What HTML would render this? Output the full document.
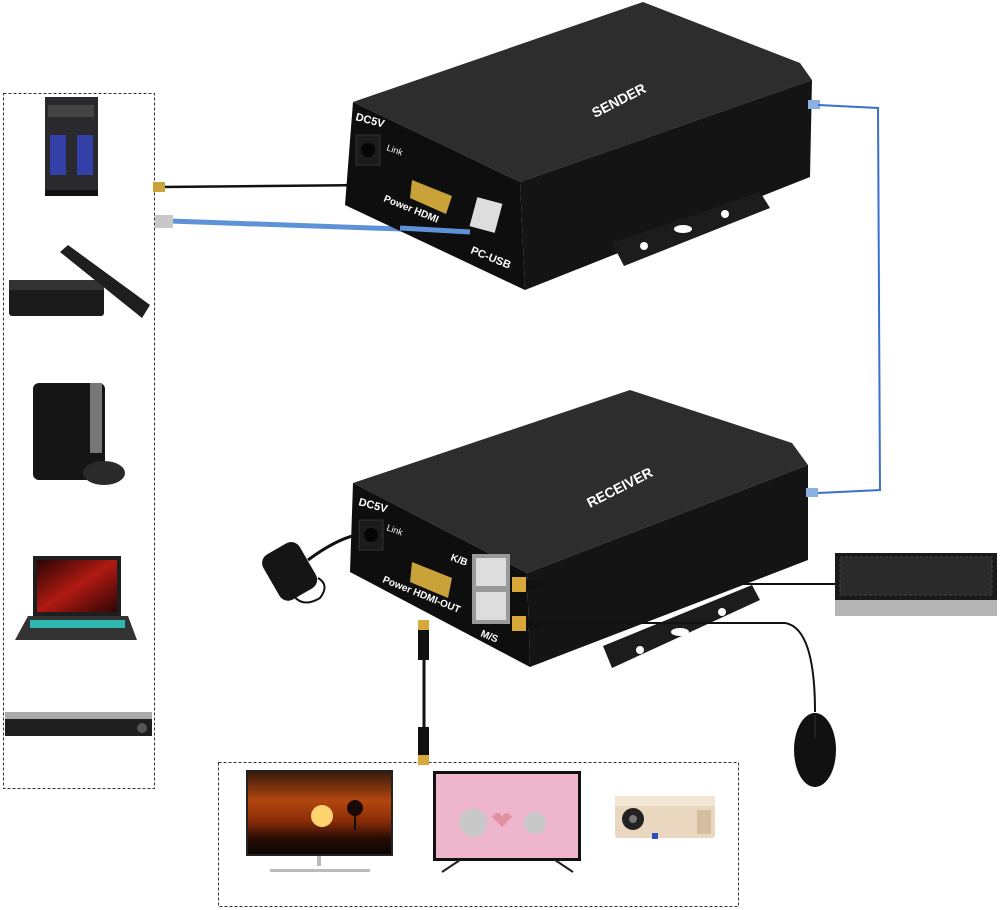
<!DOCTYPE html>
<html><head><meta charset="utf-8"><style>
html,body{margin:0;padding:0;background:#fff;}
svg{display:block;font-family:"Liberation Sans",sans-serif;}
</style></head><body>
<svg width="1000" height="910" viewBox="0 0 1000 910" xmlns="http://www.w3.org/2000/svg">
<defs>
<linearGradient id="sun" x1="0" y1="0" x2="0" y2="1">
<stop offset="0" stop-color="#3a1a0c"/><stop offset="0.35" stop-color="#b2470f"/><stop offset="0.6" stop-color="#8a2c08"/><stop offset="0.8" stop-color="#2a0d04"/><stop offset="1" stop-color="#0a0504"/>
</linearGradient>
<linearGradient id="lap" x1="0" y1="0" x2="1" y2="1">
<stop offset="0" stop-color="#2a0505"/><stop offset="0.5" stop-color="#b01a12"/><stop offset="1" stop-color="#300505"/>
</linearGradient>
</defs>
<rect width="1000" height="910" fill="#fff"/>
<rect x="3.5" y="93.5" width="151" height="695" fill="none" stroke="#333" stroke-dasharray="3,2"/>
<rect x="218.5" y="762.5" width="520" height="144" fill="none" stroke="#333" stroke-dasharray="3,2"/>

<!-- PC tower -->
<rect x="45" y="97" width="53" height="99" fill="#2a2a2e"/>
<rect x="48" y="105" width="46" height="12" fill="#444"/>
<rect x="50" y="135" width="16" height="40" fill="#3340a8"/>
<rect x="77" y="135" width="16" height="40" fill="#3340a8"/>
<rect x="45" y="190" width="53" height="6" fill="#111"/>
<!-- set-top + remote -->
<rect x="9" y="280" width="95" height="36" rx="3" fill="#1b1b1b"/>
<rect x="9" y="280" width="95" height="10" fill="#333"/>
<polygon points="60,252 68,245 150,305 142,318" fill="#1e1e1e"/>
<!-- PS3 -->
<rect x="33" y="383" width="72" height="97" rx="6" fill="#151515"/>
<rect x="90" y="383" width="12" height="70" fill="#777"/>
<ellipse cx="104" cy="473" rx="21" ry="12" fill="#2a2a2a"/>
<!-- laptop -->
<rect x="33" y="556" width="88" height="60" fill="#1e1e1e"/>
<rect x="37" y="560" width="80" height="52" fill="url(#lap)"/>
<polygon points="28,616 128,616 137,640 15,640" fill="#333"/>
<rect x="30" y="620" width="95" height="8" fill="#2fb8b0"/>
<!-- DVD -->
<rect x="5" y="712" width="147" height="24" fill="#1e1e1e"/>
<rect x="5" y="712" width="147" height="7" fill="#aaa"/>
<circle cx="142" cy="728" r="5" fill="#555"/>

<!-- cables to sender -->
<line x1="162" y1="187" x2="372" y2="185" stroke="#111" stroke-width="2.5"/>
<rect x="153" y="182" width="12" height="10" fill="#c9a23a"/>
<rect x="368" y="180" width="30" height="12" fill="#111"/>
<rect x="396" y="181" width="10" height="12" fill="#d8a93a"/>
<line x1="170" y1="221" x2="430" y2="230" stroke="#5d92d8" stroke-width="5"/>
<rect x="155" y="215" width="18" height="13" fill="#c8c8c8"/>

<!-- SENDER -->
<polygon points="353,102 643,2 800,63 812,80 520,182" fill="#2d2d2d"/>
<polygon points="520,182 812,80 810,177 525,290" fill="#141414"/>
<polygon points="353,102 520,182 525,290 345,205" fill="#0e0e0e"/>
<polygon points="612,243 624,266 770,208 760,192" fill="#1c1c1c"/>
<circle cx="644" cy="246" r="4" fill="#fff"/><circle cx="725" cy="214" r="4" fill="#fff"/>
<ellipse cx="683" cy="229" rx="9" ry="4" fill="#fff"/>
<text x="595" y="118" fill="#fff" font-size="14" font-weight="bold" transform="rotate(-27 595 118)">SENDER</text>
<text x="355" y="120" fill="#fff" font-size="11" font-weight="bold" transform="rotate(15 355 120)">DC5V</text>
<rect x="356" y="135" width="24" height="30" fill="#1b1b1b" stroke="#333"/>
<circle cx="368" cy="150" r="7" fill="#050505"/>
<text x="386" y="150" fill="#fff" font-size="9" transform="rotate(20 386 150)">Link</text>
<text x="383" y="201" fill="#fff" font-size="10" font-weight="bold" transform="rotate(22 383 201)">Power HDMI</text>
<polygon points="412,180 452,196 446,214 410,198" fill="#c9a23a"/>
<text x="470" y="253" fill="#fff" font-size="11" font-weight="bold" transform="rotate(22 470 253)">PC-USB</text>
<rect x="473" y="200" width="26" height="30" fill="#ddd" transform="rotate(15 486 215)"/>
<line x1="400" y1="228" x2="470" y2="232" stroke="#5d92d8" stroke-width="5"/>
<rect x="808" y="100" width="12" height="9" fill="#8cb0e0"/>

<!-- blue network cable -->
<polyline points="818,105 878,108 880,490 818,493" fill="none" stroke="#3b6fd0" stroke-width="2"/>

<!-- RECEIVER -->
<polygon points="353,483 630,390 792,443 808,465 527,573" fill="#2d2d2d"/>
<polygon points="527,573 808,465 808,560 530,667" fill="#141414"/>
<polygon points="353,483 527,573 530,667 350,572" fill="#0e0e0e"/>
<polygon points="603,646 612,668 760,600 752,585" fill="#1c1c1c"/>
<circle cx="640" cy="650" r="4" fill="#fff"/><circle cx="722" cy="612" r="4" fill="#fff"/>
<ellipse cx="680" cy="632" rx="9" ry="4" fill="#fff"/>
<text x="590" y="508" fill="#fff" font-size="14" font-weight="bold" transform="rotate(-27 590 508)">RECEIVER</text>
<text x="358" y="505" fill="#fff" font-size="11" font-weight="bold" transform="rotate(15 358 505)">DC5V</text>
<rect x="359" y="520" width="24" height="30" fill="#1b1b1b" stroke="#333"/>
<circle cx="371" cy="535" r="7" fill="#050505"/>
<text x="386" y="530" fill="#fff" font-size="9" transform="rotate(20 386 530)">Link</text>
<text x="382" y="582" fill="#fff" font-size="10" font-weight="bold" transform="rotate(22 382 582)">Power HDMI-OUT</text>
<polygon points="412,562 452,578 448,598 410,582" fill="#c9a23a"/>
<text x="450" y="560" fill="#fff" font-size="10" font-weight="bold" transform="rotate(20 450 560)">K/B</text>
<text x="480" y="636" fill="#fff" font-size="10" font-weight="bold" transform="rotate(22 480 636)">M/S</text>
<rect x="472" y="554" width="38" height="70" fill="#999"/>
<rect x="476" y="558" width="30" height="28" fill="#ddd"/>
<rect x="476" y="592" width="30" height="28" fill="#ddd"/>
<rect x="806" y="488" width="12" height="9" fill="#8cb0e0"/>

<!-- power adapter -->
<rect x="268" y="545" width="42" height="52" rx="10" fill="#151515" transform="rotate(-30 290 570)"/>
<path d="M308,560 Q335,540 356,535" stroke="#111" stroke-width="3" fill="none"/>
<path d="M290,590 Q300,610 320,598 Q330,585 318,578" stroke="#111" stroke-width="2" fill="none"/>

<!-- receiver cables -->
<line x1="528" y1="584" x2="835" y2="584" stroke="#111" stroke-width="2"/>
<rect x="512" y="577" width="14" height="15" fill="#d8a93a"/>
<rect x="526" y="580" width="16" height="9" fill="#111"/>
<path d="M528,623 L785,623 Q815,628 815,712" stroke="#111" stroke-width="2" fill="none"/>
<rect x="512" y="616" width="14" height="15" fill="#d8a93a"/>
<rect x="526" y="619" width="16" height="9" fill="#111"/>
<line x1="424" y1="625" x2="424" y2="760" stroke="#111" stroke-width="3"/>
<rect x="418" y="620" width="11" height="10" fill="#d8a93a"/>
<rect x="418" y="630" width="11" height="30" fill="#111"/>
<rect x="418" y="727" width="11" height="28" fill="#111"/>
<rect x="418" y="755" width="11" height="10" fill="#d8a93a"/>

<!-- keyboard -->
<rect x="835" y="553" width="162" height="47" fill="#1a1a1a"/>
<rect x="840" y="557" width="152" height="38" fill="#2a2a2a" stroke="#444" stroke-dasharray="3,2"/>
<rect x="835" y="600" width="162" height="16" fill="#b5b5b5"/>
<!-- mouse -->
<ellipse cx="815" cy="750" rx="21" ry="37" fill="#111"/>
<line x1="815" y1="715" x2="815" y2="738" stroke="#333"/>

<!-- monitor -->
<rect x="246" y="770" width="147" height="86" fill="#222"/>
<rect x="248" y="772" width="143" height="82" fill="url(#sun)"/>
<circle cx="322" cy="816" r="11" fill="#ffd470"/>
<line x1="355" y1="830" x2="355" y2="810" stroke="#111" stroke-width="2"/>
<circle cx="355" cy="808" r="8" fill="#1a0a05"/>
<rect x="317" y="856" width="4" height="10" fill="#bbb"/>
<polygon points="270,869 370,869 370,872 270,872" fill="#bbb"/>
<!-- TV -->
<rect x="433" y="771" width="148" height="90" fill="#111"/>
<rect x="436" y="774" width="142" height="84" fill="#edb6cc"/>
<circle cx="473" cy="823" r="14" fill="#c8c8c8"/>
<circle cx="535" cy="823" r="11" fill="#c8c8c8"/>
<path d="M492,817 q6,-8 10,0 q4,-8 10,0 l-10,10 z" fill="#e090a0"/>
<line x1="460" y1="860" x2="442" y2="872" stroke="#222" stroke-width="2"/>
<line x1="555" y1="860" x2="573" y2="872" stroke="#222" stroke-width="2"/>
<!-- projector -->
<rect x="615" y="796" width="100" height="42" rx="3" fill="#ead7bf"/>
<rect x="615" y="796" width="100" height="10" fill="#f3e6d4"/>
<circle cx="633" cy="819" r="11" fill="#222"/>
<circle cx="633" cy="819" r="4" fill="#777"/>
<rect x="697" y="810" width="14" height="24" fill="#d4bea0"/>
<rect x="652" y="833" width="6" height="6" fill="#2a50c0"/>
</svg>
</body></html>
